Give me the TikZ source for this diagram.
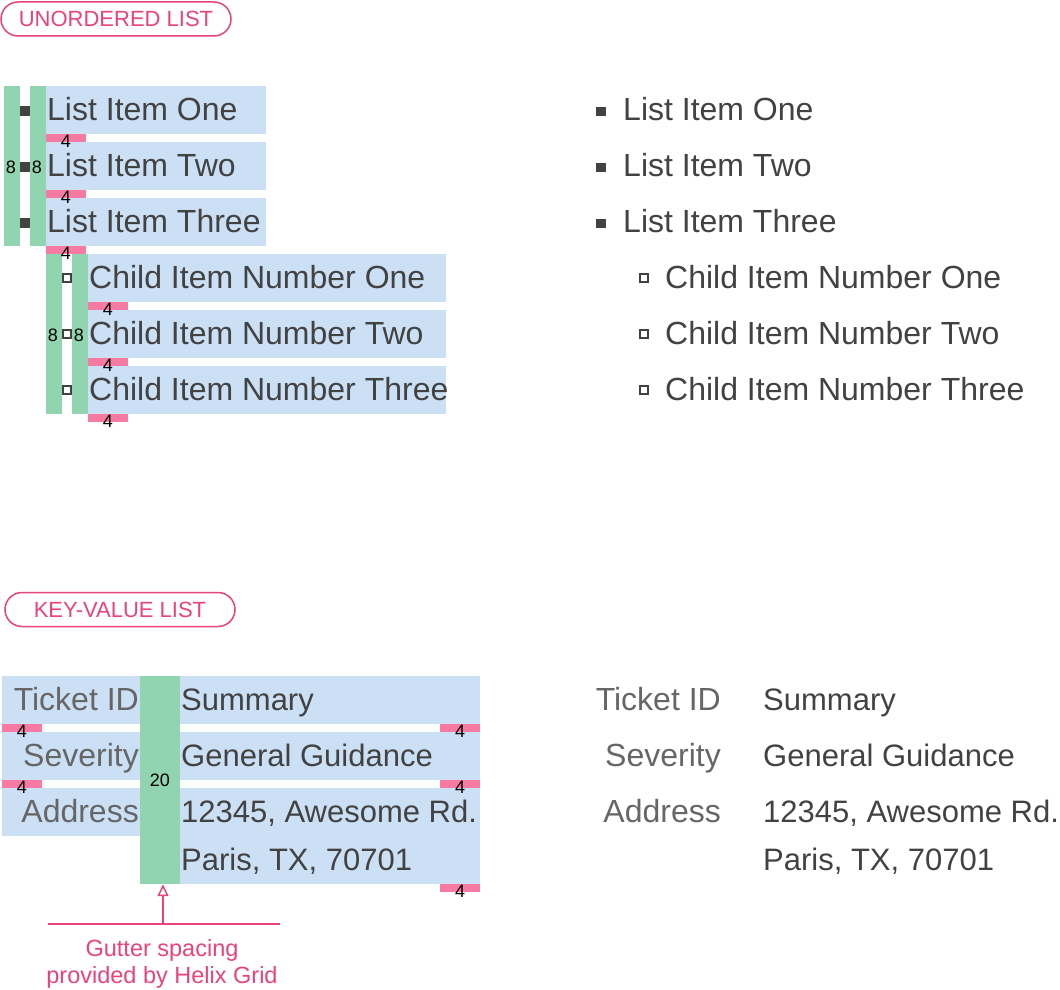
\documentclass[tikz,border=0pt]{standalone}
\usepackage{fontspec}
\setmainfont{Liberation Sans}
\usetikzlibrary{arrows.meta}
\definecolor{boxblue}{HTML}{CCE0F5}
\definecolor{gapgreen}{HTML}{90D4B0}
\definecolor{gappink}{HTML}{F77AA2}
\definecolor{hxpink}{HTML}{E8437A}
\definecolor{txtdark}{HTML}{424242}
\definecolor{txtkey}{HTML}{666666}
\begin{document}
\begin{tikzpicture}[x=1pt,y=-1pt,
  item/.style={anchor=base west,inner sep=0,text=txtdark,font=\fontsize{32}{38}\selectfont},
  key/.style={item,anchor=base east,text=txtkey},
  value/.style={item,font=\fontsize{31}{37}\selectfont},
  gap/.style={inner sep=0,font=\fontsize{18}{20}\selectfont},
  pill/.style={draw=hxpink,line width=1.5pt,rounded corners=17pt,minimum width=230pt,minimum height=34pt,inner sep=0,text=hxpink,font=\fontsize{22}{25}\selectfont},
  note/.style={anchor=base,inner sep=0,text=hxpink,font=\fontsize{23.5}{27}\selectfont}]

\useasboundingbox (0,0) rectangle (1060,990);

\node[pill] (ulhead) at (116,19) {UNORDERED LIST};
\node[pill] (kvhead) at (120,609.5) {KEY-VALUE LIST};

% unordered list, spacing view
\fill[gapgreen] (4,86) rectangle (20,246);
\fill[gapgreen] (30,86) rectangle (46,246);
\node[gap] (ulgapa) at (11,167) {8};
\node[gap] (ulgapb) at (37,167) {8};
\foreach \y/\t in {86/List Item One,142/List Item Two,198/List Item Three}{
  \fill[boxblue] (46,\y) rectangle (266,\y+48);
  \fill[gappink] (46,\y+48) rectangle (86,\y+56);
  \fill[txtdark] (20,\y+20) rectangle (30,\y+30);
  \node[item] at (47,\y+34) {\t};
  % plain view
  \fill[txtdark] (596,\y+21) rectangle (606,\y+30);
  \node[item] at (623,\y+34) {\t};
}
\fill[gapgreen] (46,254) rectangle (62,414);
\fill[gapgreen] (72,254) rectangle (88,414);
\node[gap] (chgapa) at (53,335) {8};
\node[gap] (chgapb) at (79,335) {8};
\foreach \y/\t in {254/Child Item Number One,310/Child Item Number Two,366/Child Item Number Three}{
  \fill[boxblue] (88,\y) rectangle (446,\y+48);
  \fill[gappink] (88,\y+48) rectangle (128,\y+56);
  \draw[txtdark,line width=2pt] (63,\y+20) rectangle (71,\y+28);
  \node[item] at (89,\y+34) {\t};
  % plain view
  \draw[txtdark,line width=2pt] (640,\y+20) rectangle (648,\y+28);
  \node[item] at (665,\y+34) {\t};
}
\foreach \y in {86,142,198}
  \node[gap] at (66,\y+55) {4};
\foreach \y in {254,310,366}
  \node[gap] at (108,\y+55) {4};

% key-value list, spacing view
\fill[boxblue] (180,676) rectangle (480,724);
\fill[boxblue] (180,732) rectangle (480,780);
\fill[boxblue] (180,788) rectangle (480,884);
\foreach \y/\k/\v in {676/Ticket ID/Summary,732/Severity/General Guidance,788/Address/{12345, Awesome Rd.}}{
  \fill[boxblue] (2,\y) rectangle (140,\y+48);
  \node[key] at (139,\y+34) {\k};
  \node[value] at (181,\y+34) {\v};
  % plain view
  \node[key] at (721,\y+34) {\k};
  \node[value] at (763,\y+34) {\v};
}
\node[value] (kvline) at (181,870) {Paris, TX, 70701};
\node[value] (kvlinep) at (763,870) {Paris, TX, 70701};
\foreach \y in {724,780}{
  \fill[gappink] (2,\y) rectangle (42,\y+8);
  \node[gap] at (22,\y+7) {4};
}
\foreach \y in {724,780,884}{
  \fill[gappink] (440,\y) rectangle (480,\y+8);
  \node[gap] at (460,\y+7) {4};
}
\node[fill=gapgreen,minimum width=40pt,minimum height=208pt,inner sep=0,font=\fontsize{18}{20}\selectfont] (gutter) at (160,780) {20};

% annotation
\coordinate (notel) at (48,924);
\coordinate (noter) at (280,924);
\coordinate (notem) at (163,924);
\draw[hxpink,line width=1.5pt] (notel) -- (noter);
\draw[hxpink,line width=1.5pt,-{Triangle[open,length=12pt,width=11pt]}] (notem) -- (notem |- gutter.south);
\node[note] (notea) at (162,956) {Gutter spacing};
\node[note] (noteb) at (162,983) {provided by Helix Grid};

\end{tikzpicture}
\end{document}
